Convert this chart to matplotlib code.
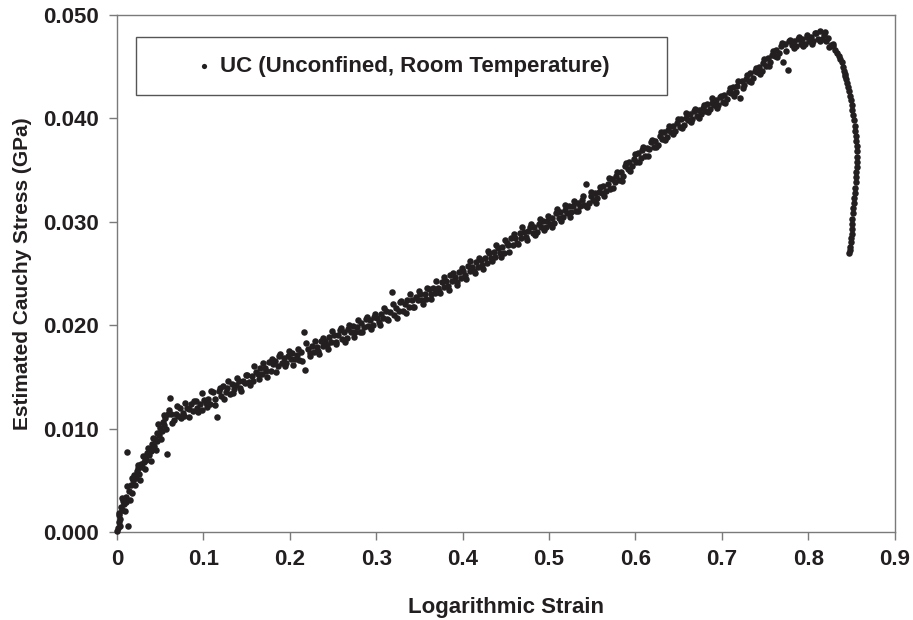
import matplotlib
matplotlib.use("Agg")
import matplotlib.pyplot as plt
from matplotlib.patches import Rectangle

# initial steep rise
rise_strain = [0.000, 0.001, 0.002, 0.003, 0.004, 0.005, 0.006, 0.007, 0.008, 0.010, 0.011,
               0.012, 0.013, 0.014, 0.016, 0.017, 0.019, 0.020, 0.022, 0.023, 0.025, 0.026,
               0.028, 0.029, 0.031, 0.032, 0.034, 0.035, 0.037, 0.038, 0.040, 0.041, 0.043,
               0.044, 0.046, 0.047, 0.049, 0.050, 0.052, 0.053, 0.055, 0.056, 0.058, 0.059]
rise_stress = [0.0001, 0.0004, 0.0010, 0.0016, 0.0013, 0.0024, 0.0021, 0.0030, 0.0027, 0.0034, 0.0029,
               0.0077, 0.0006, 0.0040, 0.0045, 0.0038, 0.0050, 0.0055, 0.0052, 0.0059, 0.0062, 0.0056,
               0.0066, 0.0063, 0.0068, 0.0072, 0.0070, 0.0076, 0.0074, 0.0080, 0.0078, 0.0085, 0.0083,
               0.0090, 0.0088, 0.0096, 0.0094, 0.0101, 0.0098, 0.0106, 0.0103, 0.0110, 0.0075, 0.0114]

# knee and slow hardening
knee_strain = [0.061, 0.063, 0.066, 0.068, 0.071, 0.073, 0.076, 0.078,
               0.081, 0.083, 0.086, 0.088, 0.091, 0.093, 0.096, 0.098,
               0.101, 0.103, 0.106, 0.108, 0.111, 0.113, 0.116, 0.118,
               0.121, 0.123, 0.126, 0.128, 0.131, 0.133, 0.136, 0.138,
               0.141, 0.143, 0.146, 0.148, 0.151, 0.153, 0.156, 0.158,
               0.161, 0.163, 0.166, 0.168, 0.171, 0.173, 0.176, 0.178,
               0.181, 0.183, 0.186, 0.188, 0.191, 0.193, 0.196, 0.198,
               0.201, 0.203, 0.206, 0.208, 0.211, 0.213, 0.216, 0.218,
               0.221, 0.223, 0.226, 0.228, 0.231, 0.233, 0.236, 0.238,
               0.241, 0.243, 0.246, 0.248, 0.251, 0.253, 0.256, 0.258,
               0.261, 0.263, 0.266, 0.268, 0.271, 0.273, 0.276, 0.278,
               0.281, 0.283, 0.286, 0.288, 0.291, 0.293, 0.296, 0.298]
knee_stress = [0.0130, 0.0114, 0.0108, 0.0114, 0.0112, 0.0120, 0.0115, 0.0112,
               0.0120, 0.0119, 0.0124, 0.0117, 0.0127, 0.0120, 0.0124, 0.0118,
               0.0128, 0.0125, 0.0129, 0.0124, 0.0135, 0.0129, 0.0111, 0.0136,
               0.0131, 0.0141, 0.0135, 0.0139, 0.0133, 0.0143, 0.0138, 0.0142,
               0.0146, 0.0139, 0.0146, 0.0144, 0.0152, 0.0145, 0.0151, 0.0146,
               0.0155, 0.0153, 0.0159, 0.0153, 0.0159, 0.0156, 0.0164, 0.0156,
               0.0162, 0.0165, 0.0160, 0.0170, 0.0163, 0.0168, 0.0163, 0.0170,
               0.0167, 0.0173, 0.0167, 0.0171, 0.0166, 0.0174, 0.0193, 0.0157,
               0.0177, 0.0173, 0.0180, 0.0174, 0.0179, 0.0175, 0.0185, 0.0180,
               0.0185, 0.0181, 0.0189, 0.0184, 0.0190, 0.0184, 0.0190, 0.0195,
               0.0187, 0.0193, 0.0188, 0.0196, 0.0193, 0.0199, 0.0193, 0.0198,
               0.0193, 0.0202, 0.0198, 0.0206, 0.0199, 0.0205, 0.0200, 0.0208]

# middle part
mid_strain = [0.301, 0.303, 0.306, 0.308, 0.311, 0.313, 0.316, 0.318,
              0.321, 0.323, 0.326, 0.328, 0.331, 0.333, 0.336, 0.338,
              0.341, 0.343, 0.346, 0.348, 0.351, 0.353, 0.356, 0.358,
              0.361, 0.363, 0.366, 0.368, 0.371, 0.373, 0.376, 0.378,
              0.381, 0.383, 0.386, 0.388, 0.391, 0.393, 0.396, 0.398,
              0.401, 0.403, 0.406, 0.408, 0.411, 0.413, 0.416, 0.418,
              0.421, 0.423, 0.426, 0.428, 0.431, 0.433, 0.436, 0.438,
              0.441, 0.443, 0.446, 0.448, 0.451, 0.453, 0.456, 0.458,
              0.461, 0.463, 0.466, 0.468, 0.471, 0.473, 0.476, 0.478,
              0.481, 0.483, 0.486, 0.488, 0.491, 0.493, 0.496, 0.498,
              0.501, 0.503, 0.506, 0.508, 0.511, 0.513, 0.516, 0.518,
              0.521, 0.523, 0.526, 0.528, 0.531, 0.533, 0.536, 0.538,
              0.541, 0.543, 0.546, 0.548, 0.551, 0.553, 0.556, 0.558,
              0.561, 0.563, 0.566, 0.568, 0.571, 0.573, 0.576, 0.578,
              0.581, 0.583, 0.586, 0.588, 0.591, 0.593, 0.596, 0.598]
mid_stress = [0.0207, 0.0203, 0.0211, 0.0207, 0.0214, 0.0206, 0.0213, 0.0232,
              0.0210, 0.0217, 0.0214, 0.0222, 0.0214, 0.0220, 0.0224, 0.0218,
              0.0224, 0.0218, 0.0227, 0.0224, 0.0230, 0.0224, 0.0230, 0.0225,
              0.0235, 0.0230, 0.0236, 0.0231, 0.0236, 0.0233, 0.0242, 0.0237,
              0.0243, 0.0238, 0.0248, 0.0243, 0.0247, 0.0242, 0.0251, 0.0246,
              0.0252, 0.0248, 0.0257, 0.0252, 0.0256, 0.0252, 0.0261, 0.0256,
              0.0263, 0.0258, 0.0265, 0.0260, 0.0270, 0.0265, 0.0271, 0.0266,
              0.0275, 0.0270, 0.0276, 0.0270, 0.0279, 0.0277, 0.0284, 0.0277,
              0.0284, 0.0279, 0.0289, 0.0284, 0.0290, 0.0285, 0.0291, 0.0295,
              0.0289, 0.0295, 0.0290, 0.0298, 0.0295, 0.0301, 0.0295, 0.0301,
              0.0298, 0.0304, 0.0299, 0.0308, 0.0304, 0.0309, 0.0305, 0.0311,
              0.0308, 0.0315, 0.0309, 0.0315, 0.0310, 0.0318, 0.0315, 0.0321,
              0.0316, 0.0336, 0.0318, 0.0325, 0.0321, 0.0328, 0.0323, 0.0329,
              0.0328, 0.0335, 0.0330, 0.0336, 0.0332, 0.0341, 0.0338, 0.0344,
              0.0340, 0.0348, 0.0344, 0.0354, 0.0351, 0.0358, 0.0354, 0.0361]

# up to the peak
peak_strain = [0.601, 0.603, 0.606, 0.608, 0.611, 0.613, 0.616, 0.618,
               0.621, 0.623, 0.626, 0.628, 0.631, 0.633, 0.636, 0.638,
               0.641, 0.643, 0.646, 0.648, 0.651, 0.653, 0.656, 0.658,
               0.661, 0.663, 0.666, 0.668, 0.671, 0.673, 0.676, 0.678,
               0.681, 0.683, 0.686, 0.688, 0.691, 0.693, 0.696, 0.698,
               0.701, 0.703, 0.706, 0.708, 0.711, 0.713, 0.716, 0.718,
               0.721, 0.723, 0.726, 0.728, 0.731, 0.733, 0.736, 0.738,
               0.741, 0.743, 0.746, 0.748, 0.751, 0.753, 0.756, 0.758,
               0.761, 0.763, 0.766, 0.768, 0.771, 0.773, 0.776, 0.778,
               0.781, 0.783, 0.786, 0.788, 0.791, 0.793, 0.796, 0.798,
               0.801, 0.803, 0.806, 0.808, 0.811, 0.813, 0.816, 0.818,
               0.821, 0.823, 0.826, 0.828]
peak_stress = [0.0358, 0.0366, 0.0362, 0.0369, 0.0364, 0.0371, 0.0370, 0.0377,
               0.0372, 0.0378, 0.0374, 0.0383, 0.0380, 0.0387, 0.0382, 0.0389,
               0.0387, 0.0393, 0.0388, 0.0395, 0.0392, 0.0399, 0.0394, 0.0400,
               0.0398, 0.0404, 0.0399, 0.0407, 0.0402, 0.0408, 0.0404, 0.0410,
               0.0407, 0.0414, 0.0409, 0.0415, 0.0413, 0.0418, 0.0413, 0.0421,
               0.0416, 0.0423, 0.0419, 0.0425, 0.0424, 0.0430, 0.0425, 0.0431,
               0.0420, 0.0436, 0.0432, 0.0438, 0.0436, 0.0444, 0.0439, 0.0446,
               0.0445, 0.0450, 0.0446, 0.0453, 0.0451, 0.0458, 0.0454, 0.0461,
               0.0460, 0.0466, 0.0463, 0.0470, 0.0454, 0.0472, 0.0447, 0.0475,
               0.0471, 0.0475, 0.0470, 0.0477, 0.0472, 0.0477, 0.0472, 0.0479,
               0.0475, 0.0479, 0.0475, 0.0482, 0.0477, 0.0484, 0.0477, 0.0481,
               0.0475, 0.0478, 0.0471, 0.0470]

# softening / drop after the peak
drop_strain = [0.831, 0.833, 0.835, 0.837, 0.839, 0.840, 0.841, 0.842, 0.843, 0.844,
               0.845, 0.846, 0.847, 0.848, 0.849, 0.850, 0.851, 0.852, 0.853, 0.854,
               0.854, 0.855, 0.855, 0.856, 0.856, 0.856, 0.856, 0.856, 0.855, 0.855,
               0.855, 0.854, 0.854, 0.853, 0.853, 0.852, 0.852, 0.851, 0.851, 0.850,
               0.850, 0.849, 0.849, 0.848, 0.848, 0.847]
drop_stress = [0.0466, 0.0463, 0.0460, 0.0457, 0.0454, 0.0450, 0.0446, 0.0443, 0.0441, 0.0438,
               0.0434, 0.0430, 0.0426, 0.0422, 0.0418, 0.0413, 0.0408, 0.0403, 0.0398, 0.0393,
               0.0388, 0.0383, 0.0378, 0.0373, 0.0368, 0.0363, 0.0358, 0.0353, 0.0348, 0.0343,
               0.0338, 0.0333, 0.0328, 0.0323, 0.0318, 0.0313, 0.0308, 0.0303, 0.0298, 0.0293,
               0.0288, 0.0284, 0.0280, 0.0276, 0.0273, 0.0270]

# points on the outer edges of the scatter band, strain < 0.3
edge_lo_strain = [0.002, 0.004, 0.006, 0.009, 0.012, 0.015, 0.018, 0.021, 0.024, 0.027,
                  0.030, 0.033, 0.036, 0.039, 0.042, 0.045, 0.048, 0.051, 0.054, 0.057,
                  0.060, 0.064, 0.069, 0.074, 0.079, 0.084, 0.089, 0.094, 0.099, 0.104,
                  0.109, 0.114, 0.119, 0.124, 0.129, 0.134, 0.139, 0.144, 0.149, 0.154,
                  0.159, 0.164, 0.169, 0.174, 0.179, 0.184, 0.189, 0.194, 0.199, 0.204,
                  0.209, 0.214, 0.219, 0.224, 0.229, 0.234, 0.239, 0.244, 0.249, 0.254,
                  0.259, 0.264, 0.269, 0.274, 0.279, 0.284, 0.289, 0.294, 0.299]
edge_lo_stress = [0.0018, 0.0006, 0.0033, 0.0020, 0.0044, 0.0031, 0.0052, 0.0045, 0.0065, 0.0050,
                  0.0073, 0.0061, 0.0081, 0.0069, 0.0091, 0.0079, 0.0104, 0.0090, 0.0113, 0.0100,
                  0.0118, 0.0105, 0.0122, 0.0110, 0.0125, 0.0111, 0.0127, 0.0116, 0.0134, 0.0121,
                  0.0136, 0.0123, 0.0139, 0.0129, 0.0146, 0.0134, 0.0149, 0.0136, 0.0152, 0.0142,
                  0.0160, 0.0148, 0.0163, 0.0150, 0.0167, 0.0155, 0.0172, 0.0160, 0.0175, 0.0161,
                  0.0177, 0.0165, 0.0183, 0.0170, 0.0185, 0.0172, 0.0188, 0.0177, 0.0194, 0.0182,
                  0.0197, 0.0184, 0.0200, 0.0189, 0.0205, 0.0193, 0.0208, 0.0196, 0.0211]

# points on the outer edges of the scatter band, strain > 0.3
edge_hi_strain = [0.304, 0.309, 0.314, 0.319, 0.324, 0.329, 0.334, 0.339, 0.344, 0.349,
                  0.354, 0.359, 0.364, 0.369, 0.374, 0.379, 0.384, 0.389, 0.394, 0.399,
                  0.404, 0.409, 0.414, 0.419, 0.424, 0.429, 0.434, 0.439, 0.444, 0.449,
                  0.454, 0.459, 0.464, 0.469, 0.474, 0.479, 0.484, 0.489, 0.494, 0.499,
                  0.504, 0.509, 0.514, 0.519, 0.524, 0.529, 0.534, 0.539, 0.544, 0.549,
                  0.554, 0.559, 0.564, 0.569, 0.574, 0.579, 0.584, 0.589, 0.594, 0.599,
                  0.604, 0.609, 0.614, 0.619, 0.624, 0.629, 0.634, 0.639, 0.644, 0.649,
                  0.654, 0.659, 0.664, 0.669, 0.674, 0.679, 0.684, 0.689, 0.694, 0.699,
                  0.704, 0.709, 0.714, 0.719, 0.724, 0.729, 0.734, 0.739, 0.744, 0.749,
                  0.754, 0.759, 0.764, 0.769, 0.774, 0.779, 0.784, 0.789, 0.794, 0.799,
                  0.804, 0.809, 0.814, 0.819, 0.824, 0.829]
edge_hi_stress = [0.0200, 0.0217, 0.0205, 0.0220, 0.0207, 0.0223, 0.0212, 0.0230, 0.0218, 0.0233,
                  0.0220, 0.0236, 0.0225, 0.0243, 0.0231, 0.0247, 0.0234, 0.0250, 0.0239, 0.0255,
                  0.0245, 0.0262, 0.0250, 0.0265, 0.0254, 0.0272, 0.0262, 0.0277, 0.0266, 0.0282,
                  0.0271, 0.0288, 0.0278, 0.0295, 0.0282, 0.0298, 0.0287, 0.0303, 0.0292, 0.0306,
                  0.0295, 0.0312, 0.0301, 0.0316, 0.0305, 0.0320, 0.0310, 0.0325, 0.0314, 0.0329,
                  0.0318, 0.0334, 0.0325, 0.0342, 0.0333, 0.0348, 0.0339, 0.0357, 0.0349, 0.0365,
                  0.0358, 0.0372, 0.0364, 0.0379, 0.0372, 0.0387, 0.0379, 0.0393, 0.0385, 0.0399,
                  0.0391, 0.0405, 0.0396, 0.0409, 0.0400, 0.0413, 0.0406, 0.0420, 0.0410, 0.0422,
                  0.0415, 0.0429, 0.0422, 0.0436, 0.0429, 0.0442, 0.0435, 0.0449, 0.0443, 0.0457,
                  0.0451, 0.0465, 0.0459, 0.0473, 0.0465, 0.0476, 0.0468, 0.0479, 0.0470, 0.0481,
                  0.0472, 0.0482, 0.0475, 0.0483, 0.0469, 0.0472]

x_ticks = [0, 0.1, 0.2, 0.3, 0.4, 0.5, 0.6, 0.7, 0.8, 0.9]
x_labels = ["0", "0.1", "0.2", "0.3", "0.4", "0.5", "0.6", "0.7", "0.8", "0.9"]
y_ticks = [0.000, 0.010, 0.020, 0.030, 0.040, 0.050]
y_labels = ["0.000", "0.010", "0.020", "0.030", "0.040", "0.050"]

strain = (rise_strain + knee_strain + mid_strain + peak_strain + drop_strain
          + edge_lo_strain + edge_hi_strain)
stress = (rise_stress + knee_stress + mid_stress + peak_stress + drop_stress
          + edge_lo_stress + edge_hi_stress)

ink = "#231f20"
frame = "#7a7a7a"
plt.rcParams["font.family"] = ["Liberation Sans", "DejaVu Sans"]
plt.rcParams["font.weight"] = "bold"

fig = plt.figure(figsize=(9.13, 6.2), dpi=100)
ax = fig.add_axes([0.128, 0.142, 0.852, 0.834])

ax.scatter(strain, stress, s=22, color=ink, linewidths=0, zorder=3,
           label="UC (Unconfined, Room Temperature)", clip_on=False)

ax.set_xlim(0, 0.9)
ax.set_ylim(0, 0.05)
ax.set_xticks(x_ticks)
ax.set_xticklabels(x_labels)
ax.set_yticks(y_ticks)
ax.set_yticklabels(y_labels)

for sp in ax.spines.values():
    sp.set_color(frame)
    sp.set_linewidth(1)
ax.tick_params(axis="both", direction="out", length=6, width=1, color=frame,
               labelsize=16, labelcolor=ink)
ax.tick_params(axis="x", pad=6)
ax.tick_params(axis="y", pad=7)

ax.set_xlabel("Logarithmic Strain", fontsize=16, fontweight="bold", color=ink, labelpad=20)
ax.set_ylabel("Estimated Cauchy Stress (GPa)", fontsize=15, fontweight="bold", color=ink, labelpad=8)

# legend box
box = Rectangle((0.024, 0.845), 0.683, 0.112, transform=ax.transAxes,
                facecolor="white", edgecolor="#555555", linewidth=1, zorder=4)
ax.add_patch(box)
leg = ax.legend(loc="center", bbox_to_anchor=(0.370, 0.901), frameon=False,
                handlelength=0.4, handletextpad=0.5, borderpad=0, markerscale=0.8,
                prop={"size": 16, "weight": "bold"}, labelcolor=ink)
leg.set_zorder(5)

fig.savefig("out.png", dpi=100)
